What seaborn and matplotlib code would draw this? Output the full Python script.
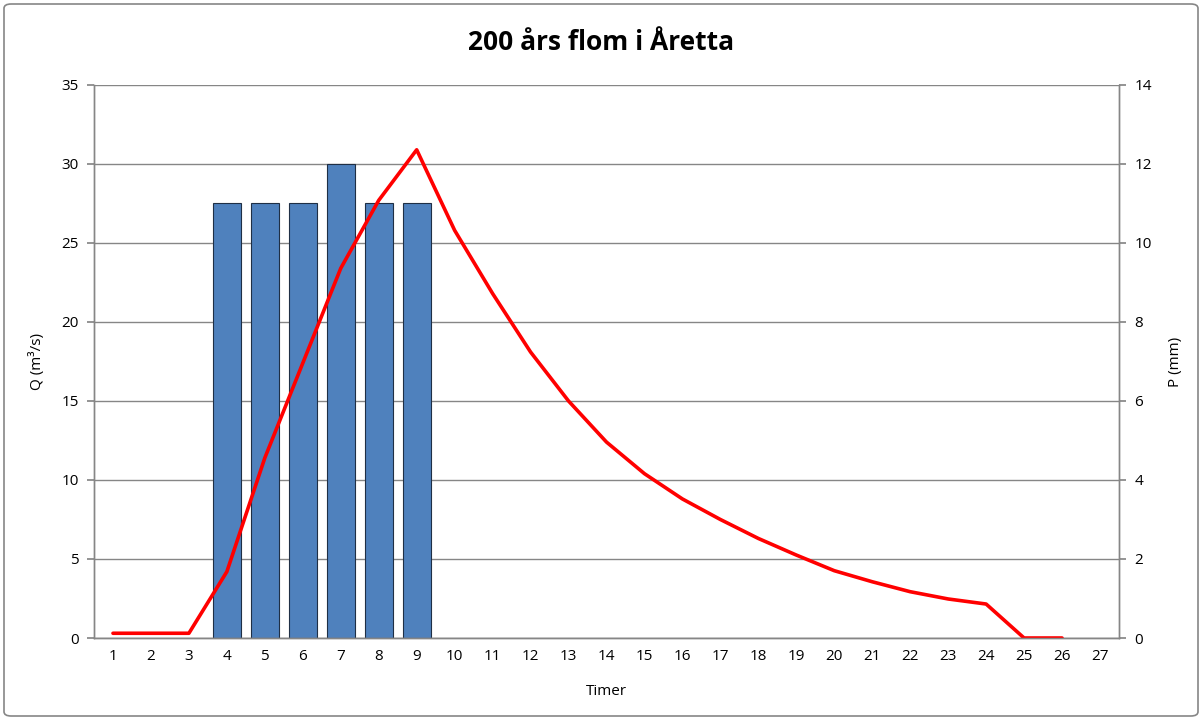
import matplotlib
matplotlib.use("Agg")
import matplotlib.pyplot as plt
from matplotlib.patches import FancyBboxPatch
import seaborn as sns
import pandas as pd
import numpy as np

hours = list(range(1, 28))
q_hours = list(range(1, 27))
q_values = [0.3, 0.3, 0.3, 4.2, 11.4, 17.4, 23.4, 27.7, 30.9, 25.8, 21.8, 18.1, 15.0,
            12.4, 10.4, 8.8, 7.5, 6.3, 5.25, 4.26, 3.56, 2.93, 2.47, 2.15, 0.0, 0.0]
p_hours = [4, 5, 6, 7, 8, 9]
p_values = [11, 11, 11, 12, 11, 11]

title = "200 års flom i Åretta"
font = ["Open Sans", "DejaVu Sans"]

sns.set_theme(style="white")
plt.rcParams["font.family"] = font
plt.rcParams["text.color"] = "black"
plt.rcParams["axes.labelcolor"] = "black"
plt.rcParams["xtick.labelcolor"] = "black"
plt.rcParams["ytick.labelcolor"] = "black"

fig = plt.figure(figsize=(12.02, 7.2), dpi=100)
ax = fig.add_axes([94 / 1202, 1 - 638 / 720, (1119 - 94) / 1202, (638 - 85) / 720])
ax2 = ax.twinx()

grey = "#868686"

# bars on secondary axis (bottom layer, with grid)
df_p = pd.DataFrame({"hour": p_hours, "P": p_values})
sns.barplot(data=df_p, x="hour", y="P", native_scale=True, ax=ax2, color="#4F81BD",
            saturation=1, width=0.74, edgecolor="#1F2F45", linewidth=0.8)
ax2.set_ylim(0, 14)
ax2.set_yticks(np.arange(0, 15, 2))
ax2.set_axisbelow(True)
ax2.yaxis.grid(True, color=grey, linewidth=1)
ax2.xaxis.grid(False)
ax2.set_ylabel("P (mm)", fontsize=11, labelpad=12, color="black")
ax2.set_xlabel("")

# line on primary axis (top layer)
df_q = pd.DataFrame({"hour": q_hours, "Q": q_values})
sns.lineplot(data=df_q, x="hour", y="Q", ax=ax, color="#FF0000", linewidth=2.6)
ax.set_ylim(0, 35)
ax.set_yticks(np.arange(0, 36, 5))
ax.set_xlim(0.5, 27.5)
ax.set_xticks(hours)
ax.set_xticks(np.arange(0.5, 28, 1), minor=True)
ax.tick_params(axis="x", which="major", length=0, pad=8, labelsize=11, labelcolor="black")
ax.tick_params(axis="x", which="minor", length=5, color=grey, direction="out", width=1)
ax.tick_params(axis="y", length=5, color=grey, direction="out", labelsize=11, pad=6,
               labelcolor="black")
ax2.tick_params(axis="y", length=5, color=grey, direction="out", labelsize=11, pad=6,
                labelcolor="black")
ax.set_ylabel("Q (m³/s)", fontsize=11, labelpad=12, color="black")
ax.set_xlabel("Timer", fontsize=11, labelpad=14, color="black")
ax.grid(False)

ax.set_zorder(ax2.get_zorder() + 1)
ax.patch.set_visible(False)
ax2.patch.set_visible(True)
ax2.patch.set_facecolor("white")

for a in (ax, ax2):
    for s in a.spines.values():
        s.set_color(grey)
        s.set_linewidth(1)
    a.spines["top"].set_visible(False)

fig.text(0.5, 1 - 42 / 720, title, ha="center", va="center", fontsize=19,
         fontweight="bold", family=font, color="black")

border = FancyBboxPatch((4 / 1202, 4 / 720), 1 - 8 / 1202, 1 - 8 / 720,
                        boxstyle="round,pad=0,rounding_size=0.006",
                        transform=fig.transFigure, fill=False, edgecolor=grey,
                        linewidth=1.2)
fig.patches.append(border)

fig.savefig("out.png", dpi=100, facecolor="white")
